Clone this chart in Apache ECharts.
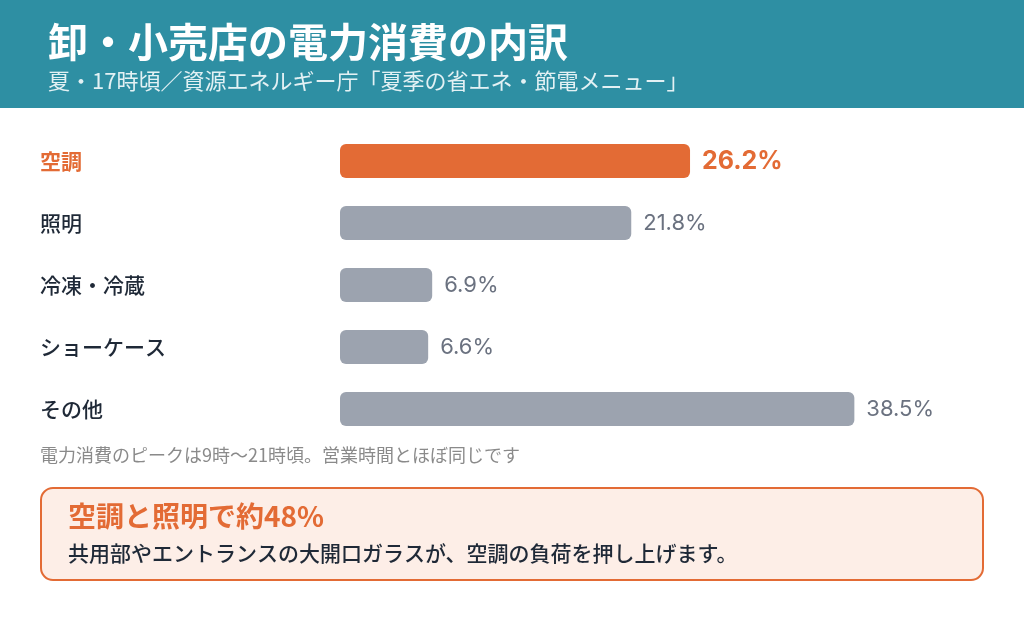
<!DOCTYPE html>
<html>
<head>
<meta charset="utf-8">
<script src="https://cdn.jsdelivr.net/npm/echarts@6/dist/echarts.min.js"></script>
<style>
  html, body { margin: 0; padding: 0; background: #fff; }
  #chart { width: 1024px; height: 618px; }
</style>
</head>
<body>
<div id="chart"></div>
<script>
// 卸・小売店の電力消費の内訳
var chart = echarts.init(document.getElementById('chart'));

var categories = ['空調', '照明', '冷凍・冷蔵', 'ショーケース', 'その他'];
var shares = [26.2, 21.8, 6.9, 6.6, 38.5];
var highlight = '空調';

var FONT = '"Noto Sans CJK JP", "Noto Sans", sans-serif';
var NUMFONT = 'Inter, "Noto Sans CJK JP", sans-serif';
var ORANGE = '#E36B35';
var GREY = '#9CA3AF';

var option = {
    backgroundColor: '#fff',
    textStyle: { fontFamily: FONT },
    grid: {
        left: 340,
        right: 16,
        top: 130,
        height: 310,
        containLabel: false
    },
    xAxis: {
        type: 'value',
        min: 0,
        max: 50,
        show: false
    },
    yAxis: {
        type: 'category',
        data: categories,
        inverse: true,
        axisLine: { show: false },
        axisTick: { show: false },
        axisLabel: {
            margin: 300,
            align: 'left',
            fontFamily: FONT,
            formatter: function (v) {
                return v === highlight ? '{hi|' + v + '}' : '{n|' + v + '}';
            },
            rich: {
                hi: { fontSize: 21, fontWeight: 'bold', color: ORANGE, fontFamily: FONT },
                n: { fontSize: 21, fontWeight: 500, color: '#1F2937', fontFamily: FONT }
            }
        }
    },
    series: [{
        type: 'bar',
        barWidth: 34,
        data: shares.map(function (v, i) {
            var hi = categories[i] === highlight;
            return {
                value: v,
                itemStyle: { color: hi ? ORANGE : GREY, borderRadius: 6 },
                label: hi ? { fontSize: 25, fontWeight: 'bold', color: ORANGE } : {}
            };
        }),
        label: {
            show: true,
            position: 'right',
            distance: 12,
            fontFamily: NUMFONT,
            fontSize: 22,
            color: '#6B7280',
            formatter: function (p) { return p.value.toFixed(1) + '%'; }
        },
        silent: true
    }],
    graphic: [
        { type: 'rect', shape: { x: 0, y: 0, width: 1024, height: 108 }, style: { fill: '#2E8FA3' } },
        {
            type: 'text', x: 48, y: 42,
            style: { text: '卸・小売店の電力消費の内訳', fill: '#fff', font: 'bold 40px ' + FONT, verticalAlign: 'middle' }
        },
        {
            type: 'text', x: 48, y: 81,
            style: { text: '夏・17時頃／資源エネルギー庁「夏季の省エネ・節電メニュー」', fill: '#E3F1F4', font: '22px ' + FONT, verticalAlign: 'middle' }
        },
        {
            type: 'text', x: 40, y: 455,
            style: { text: '電力消費のピークは9時〜21時頃。営業時間とほぼ同じです', fill: '#8A8A8A', font: '18px ' + FONT, verticalAlign: 'middle' }
        },
        {
            type: 'rect',
            shape: { x: 41, y: 488, width: 942, height: 92, r: 12 },
            style: { fill: '#FDEEE7', stroke: ORANGE, lineWidth: 2 }
        },
        {
            type: 'text', x: 68, y: 516,
            style: { text: '空調と照明で約48%', fill: ORANGE, font: 'bold 28px ' + FONT, verticalAlign: 'middle' }
        },
        {
            type: 'text', x: 68, y: 553,
            style: { text: '共用部やエントランスの大開口ガラスが、空調の負荷を押し上げます。', fill: '#1F2937', font: '500 21px ' + FONT, verticalAlign: 'middle' }
        }
    ]
};
chart.setOption(option);
</script>
</body>
</html>
